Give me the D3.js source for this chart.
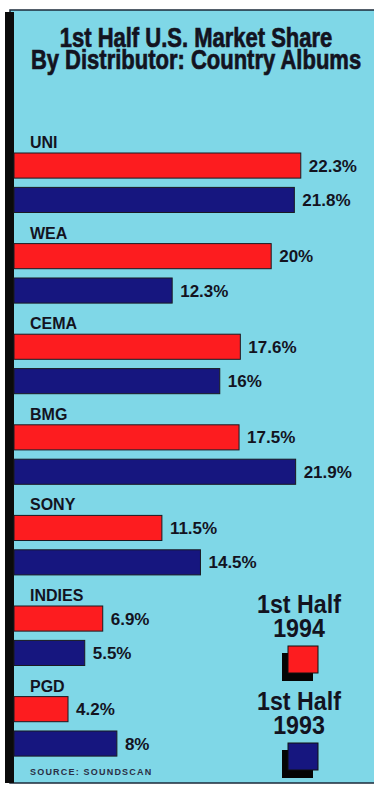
<!DOCTYPE html>
<html><head><meta charset="utf-8">
<script src="https://cdn.jsdelivr.net/npm/d3@7"></script>
<style>html,body{margin:0;padding:0;background:#fff;}svg{display:block;}</style>
</head><body>
<script>
const titleLines = ["1st Half U.S. Market Share", "By Distributor: Country Albums"];
const categories = ["UNI", "WEA", "CEMA", "BMG", "SONY", "INDIES", "PGD"];
const series = ["1st Half 1994", "1st Half 1993"];
const values1994 = [22.3, 20, 17.6, 17.5, 11.5, 6.9, 4.2];
const values1993 = [21.8, 12.3, 16, 21.9, 14.5, 5.5, 8];
const valueLabels1994 = ["22.3%", "20%", "17.6%", "17.5%", "11.5%", "6.9%", "4.2%"];
const valueLabels1993 = ["21.8%", "12.3%", "16%", "21.9%", "14.5%", "5.5%", "8%"];
const seriesColors = ["#fd1c1f", "#16167f"];
const sourceText = "SOURCE: SOUNDSCAN";

const W = 374, H = 789;
const bg = "#7fd7e7", ink = "#13131f";
const FONT = "'Liberation Sans', Arial, sans-serif";

const svg = d3.select("body").append("svg").attr("width", W).attr("height", H);
svg.append("rect").attr("width", W).attr("height", H).attr("fill", "#fff");
// panel
svg.append("rect").attr("x", 10).attr("y", 10).attr("width", W - 9).attr("height", 773)
  .attr("fill", bg).attr("stroke", "#1d2a3a").attr("stroke-width", 1.5);
svg.append("rect").attr("x", 5).attr("y", 12).attr("width", 9).attr("height", 771).attr("fill", "#0b0b0b");

// title: one text element, two lines, horizontally condensed
const title = svg.append("text")
  .attr("transform", "translate(196,0) scale(0.815,1)")
  .attr("text-anchor", "middle")
  .attr("font-family", FONT).attr("font-weight", "bold").attr("font-size", 27)
  .attr("fill", ink).attr("stroke", ink).attr("stroke-width", 0.7);
title.selectAll("tspan").data(titleLines).join("tspan")
  .attr("x", 0).attr("y", (d, i) => i === 0 ? 47 : 69).text(d => d);

const x = d3.scaleLinear().domain([0, 25]).range([14, 14 + 25 * 12.86]);
const y = d3.scaleBand().domain(categories).range([153, 153 + 7 * 90.6]);
const ys = d3.scaleBand().domain(series).range([0, 59.5]).paddingInner(0.27);

const rows = categories.map((c, i) => ({ c, v: [values1994[i], values1993[i]], l: [valueLabels1994[i], valueLabels1993[i]] }));

const g = svg.selectAll("g.cat").data(rows).join("g").attr("class", "cat")
  .attr("transform", d => `translate(0,${y(d.c)})`);

g.append("text").attr("x", 30).attr("y", -5)
  .attr("font-family", FONT).attr("font-weight", "bold").attr("font-size", 16)
  .attr("fill", ink).text(d => d.c);

series.forEach((s, si) => {
  g.append("rect").attr("x", x(0)).attr("y", ys(s))
    .attr("width", d => x(d.v[si]) - x(0)).attr("height", ys.bandwidth())
    .attr("fill", seriesColors[si]).attr("stroke", "#1a1a22").attr("stroke-width", 1);
  g.append("text").attr("x", d => x(d.v[si]) + 8).attr("y", ys(s) + ys.bandwidth() / 2 + 6)
    .attr("font-family", FONT).attr("font-weight", "bold").attr("font-size", 17)
    .attr("fill", ink).text(d => d.l[si]);
});

// legend
const legY = [613, 710];
series.forEach((s, i) => {
  const parts = [s.slice(0, 8), s.slice(9)];
  const t = svg.append("text")
    .attr("transform", "translate(299,0) scale(0.93,1)")
    .attr("text-anchor", "middle")
    .attr("font-family", FONT).attr("font-weight", "bold").attr("font-size", 25)
    .attr("fill", ink);
  t.selectAll("tspan").data(parts).join("tspan")
    .attr("x", 0).attr("y", (d, j) => legY[i] + j * 24).text(d => d);
  const sy = legY[i] + 33;
  svg.append("rect").attr("x", 282).attr("y", sy + 7).attr("width", 31).attr("height", 28).attr("fill", "#050505");
  svg.append("rect").attr("x", 288).attr("y", sy).attr("width", 30).attr("height", 27)
    .attr("fill", seriesColors[i]).attr("stroke", "#111").attr("stroke-width", 1);
});

svg.append("text").attr("x", 30).attr("y", 775)
  .attr("letter-spacing", 1.2)
  .attr("font-family", FONT).attr("font-weight", "bold").attr("font-size", 9)
  .attr("fill", "#2a2f45").text(sourceText);
</script>
</body></html>
